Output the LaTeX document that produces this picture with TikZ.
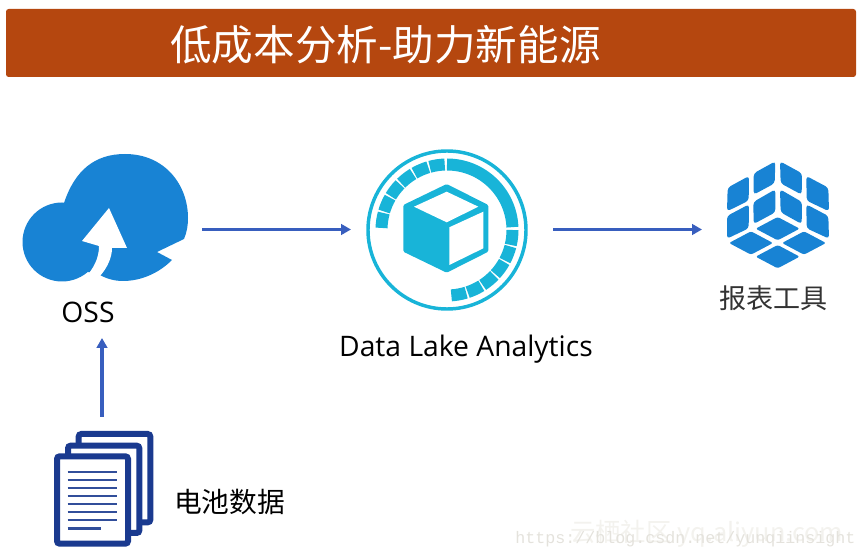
\documentclass[tikz,border=0pt]{standalone}
\usepackage{fontspec}
\setmainfont{Open Sans}
\newfontfamily\cjk{Noto Sans CJK SC}
\newfontfamily\wmark{Liberation Mono}
\definecolor{bannerred}{RGB}{181,71,15}
\definecolor{cloudblue}{RGB}{24,131,212}
\definecolor{cubeblue}{RGB}{24,180,216}
\definecolor{docblue}{RGB}{26,58,143}
\definecolor{arrowblue}{RGB}{56,94,190}
\definecolor{wmgrey}{RGB}{228,226,220}
\definecolor{wmlight}{RGB}{243,242,238}
\usetikzlibrary{arrows.meta}
\tikzset{
	flow/.style={arrowblue,line width=2.4pt,-{Triangle[length=7.5pt,width=8pt]}},
	icon/.style={inner sep=0pt,outer sep=0pt,minimum width=#1},
	label/.style={inner sep=0pt,black,font=\cjk\fontsize{20.3}{24}\selectfont},
	petal/.style={fill=cloudblue,rounded corners=2.4pt},
	sheet/.style={draw=docblue,fill=white,line width=4.5pt,rounded corners=2pt},
	rule/.style={docblue!90!white,line width=1.9pt},
	segment/.style={cubeblue,line width=9pt}
}
\begin{document}
\begin{tikzpicture}[x=0.75pt,y=-0.75pt]
	\useasboundingbox (0,0) rectangle (865,559);
	% banner
	\fill[bannerred,rounded corners=2pt] (6,9) rectangle (856,77);
	\node[inner sep=0pt,white,anchor=west,font=\cjk\fontsize{31.2}{36}\selectfont] (title) at (170,44.5) {低成本分析-助力新能源};
	% cloud
	\fill[cloudblue] (62,242) circle (39.5);
	\fill[cloudblue] (64,203) .. controls (75,170) and (95,154) .. (125,154)
		.. controls (165,154) and (188,185) .. (188,218)
		.. controls (188,225) and (187,232) .. (184,239)
		-- (157,252) -- (172,260)
		.. controls (158,274) and (140,281) .. (123,281)
		.. controls (115,281) and (107,279) .. (100,275) -- (80,270) -- cycle;
	\fill[white] (109,208) -- (127,248) -- (112,248)
		.. controls (112,258) and (107,268) .. (100,276)
		-- (85,278) .. controls (94,268) and (99,258) .. (99,246)
		-- (82,241) -- cycle;
	\node[inner sep=0pt,font=\fontsize{21.2}{24}\selectfont] (osslabel) at (88,312) {OSS};
	% data lake icon
	\draw[cubeblue,line width=2.6pt] (447,230) circle (79);
	\draw[segment] (447,230) ++(-90:65.5) arc[start angle=-90,end angle=-2.5,radius=65.5];
	\foreach \a in {0,...,5} {
		\draw[segment] (447,230) ++(\a*14.6:65.5) arc[start angle=\a*14.6,end angle=\a*14.6+13.2,radius=65.5];
		\draw[segment] (447,230) ++(-92-\a*14.6:65.5) arc[start angle=-92-\a*14.6,end angle=-92-\a*14.6-13.2,radius=65.5];
	}
	\fill[cubeblue,rounded corners=1pt] (446.7,184) -- (488.3,205) -- (488.3,251.7) -- (446.7,272.7) -- (403.3,251.7) -- (403.3,205) -- cycle;
	\fill[white] (446.7,191.7) -- (478.3,206.7) -- (446.7,222.3) -- (414,206.7) -- cycle;
	\fill[white] (449.3,227.3) -- (483.3,211.7) -- (483.3,248.3) -- (449.3,265) -- cycle;
	\node[inner sep=0pt,font=\fontsize{21.2}{24}\selectfont] (dlalabel) at (466,349) {Data Lake Analytics};
	% report icon
	\begin{scope}[shift={(700,150)},x=0.25pt,y=-0.25pt]
		\fill[petal] (147,78) -- (146,152) -- (81,184) -- (83,113) -- cycle;
		\fill[petal] (226,34) -- (224,100) -- (161,134) -- (161,70) -- cycle;
		\fill[petal] (240,34) -- (242,100) -- (305,134) -- (306,70) -- cycle;
		\fill[petal] (319,78) -- (320,152) -- (387,184) -- (385,113) -- cycle;
		\fill[petal] (147,163) -- (146,235) -- (81,266) -- (81,198) -- cycle;
		\fill[petal] (226,118) -- (226,187) -- (161,222) -- (160,156) -- cycle;
		\fill[petal] (240,118) -- (242,187) -- (305,222) -- (306,156) -- cycle;
		\fill[petal] (319,163) -- (320,235) -- (387,266) -- (385,198) -- cycle;
		\foreach \cx/\cy in {233/236,153/279,312/279,233/320}
			\fill[petal,rounded corners=1.6pt] (\cx,\cy-35) -- (\cx+66,\cy) -- (\cx,\cy+35) -- (\cx-66,\cy) -- cycle;
	\end{scope}
	\node[label,text=black!80] (reportlabel) at (773.5,298) {报表工具};
	% document stack
	\begin{scope}[shift={(30,420)},x=0.25pt,y=-0.25pt]
		\draw[sheet] (146,42) rectangle (361,307);
		\draw[sheet] (114,77) rectangle (328,339);
		\draw[sheet] (81,109) rectangle (294,371);
		\foreach \ly in {156,180,...,300}
			\draw[rule] (113,\ly) -- (262,\ly);
		\draw[rule] (113,325) -- (213,325);
	\end{scope}
	\node[label,font=\cjk\fontsize{20.8}{24}\selectfont] (batterylabel) at (229.5,502) {电池数据};
	% icon boxes for the connectors
	\node[icon=135pt] (ossicon) at (112,229.5) {};
	\node[icon=151.5pt] (dlaicon) at (452,229.5) {};
	\node[icon=99pt] (reporticon) at (768,229.5) {};
	\coordinate (docout) at (102,417);
	\coordinate (ossin) at (102,338);
	\draw[flow] (ossicon.east) -- (dlaicon.west);
	\draw[flow] (dlaicon.east) -- (reporticon.west);
	\draw[flow] (docout) -- (ossin);
	% watermark
	\node[inner sep=0pt,anchor=west,wmlight,font=\cjk\fontsize{19}{24}\selectfont] (wmcn) at (570,534) {云栖社区 yq.aliyun.com};
	\node[inner sep=0pt,anchor=west,wmgrey,font=\wmark\fontsize{12.5}{14}\selectfont] (wmurl) at (515,539) {https://blog.csdn.net/yunqiinsight};
\end{tikzpicture}
\end{document}
